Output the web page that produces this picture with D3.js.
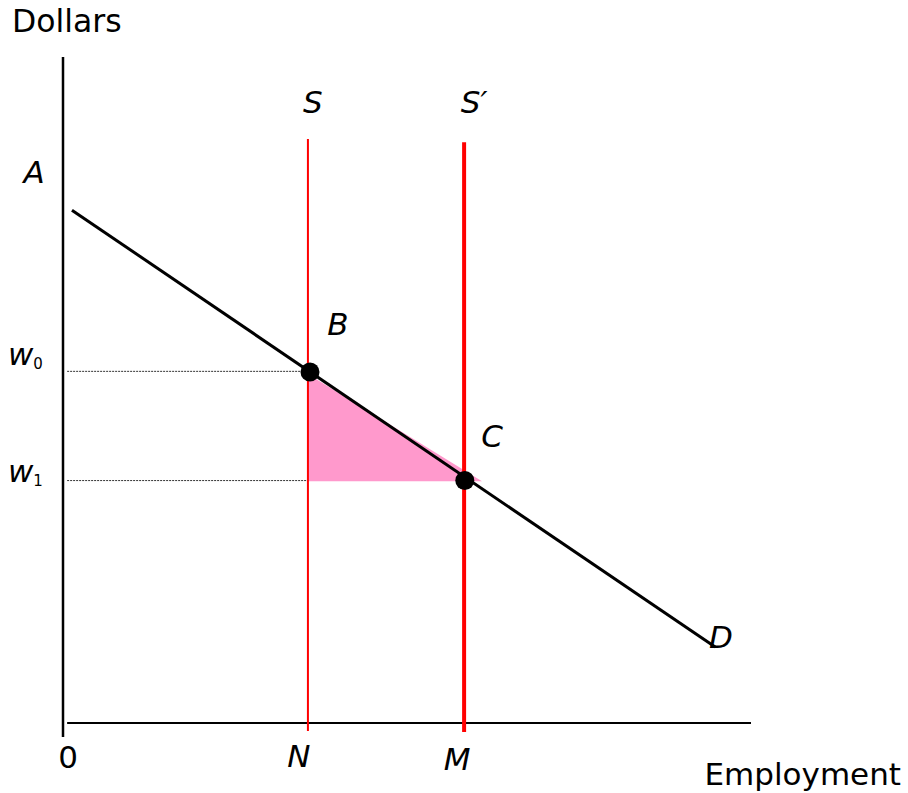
<!DOCTYPE html>
<html>
<head>
<meta charset="utf-8">
<script src="https://cdn.jsdelivr.net/npm/d3@7/dist/d3.min.js"></script>
<style>
  html, body { margin: 0; padding: 0; background: #fff; }
  svg { display: block; }
  text { font-family: "DejaVu Sans", Verdana, sans-serif; fill: #000; }
</style>
</head>
<body>
<svg id="chart" width="908" height="793"></svg>
<script>
// ---- data (employment units on x, dollars on y) ----
const employmentPoints = { N: 35.6, M: 58.3 };
const wageLevels = { w0: 52.8, w1: 36.4 };
const demandLine = [[1.3, 77.0], [94.8, 11.4]];
const supplyS = [[35.6, 87.7], [35.6, -1.2]];
const supplySPrime = [[58.3, 87.2], [58.3, -1.35]];
const pinkTriangle = [[35.6, 52.4], [35.6, 36.3], [60.9, 36.3]];
const eqPoints = [{ name: "B", x: 35.9, y: 52.7 }, { name: "C", x: 58.4, y: 36.4 }];
const axisLabels = { x: "Employment", y: "Dollars" };

const svg = d3.select("#chart");
const xs = d3.scaleLinear().domain([0, 100]).range([63, 751]);
const ys = d3.scaleLinear().domain([0, 100]).range([723, 57]);
const line = d3.line().x(d => xs(d[0])).y(d => ys(d[1]));

// pink triangle
svg.append("path").attr("d", line(pinkTriangle) + "Z").attr("fill", "#ff99cc");

// dotted wage lines
[wageLevels.w0, wageLevels.w1].forEach(w => {
  svg.append("path").attr("d", line([[0.6, w], [employmentPoints.N, w]]))
    .attr("stroke", "#333").attr("stroke-width", 1).attr("stroke-dasharray", "2,1").attr("fill", "none");
});

// axes
svg.append("path").attr("d", line([[0, 100], [0, -2.1]])).attr("stroke", "#000").attr("stroke-width", 2.5);
svg.append("path").attr("d", line([[0.6, 0], [100, 0]])).attr("stroke", "#000").attr("stroke-width", 2);

// supply lines
svg.append("path").attr("d", line(supplyS)).attr("stroke", "#ff0000").attr("stroke-width", 2);
svg.append("path").attr("d", line(supplySPrime)).attr("stroke", "#ff0000").attr("stroke-width", 4);

// demand
svg.append("path").attr("d", line(demandLine)).attr("stroke", "#000").attr("stroke-width", 3).attr("fill", "none");

// points
svg.selectAll("circle.eq").data(eqPoints).enter().append("circle")
  .attr("cx", d => xs(d.x)).attr("cy", d => ys(d.y)).attr("r", 9.5).attr("fill", "#000");

// labels
function label(txt, x, y, opts = {}) {
  return svg.append("text").attr("x", x).attr("y", y)
    .attr("font-size", opts.size || 30)
    .attr("text-anchor", opts.anchor || "middle")
    .attr("font-style", opts.italic ? "italic" : "normal")
    .text(txt);
}
label(axisLabels.y, 12, 32, { anchor: "start", size: 31.5 });
label(axisLabels.x, 901, 785, { anchor: "end", size: 31 });
label("S", xs(employmentPoints.N) + 5, 113, { italic: true, size: 31 });
label("S\u2032", xs(employmentPoints.M) + 10, 113, { italic: true, size: 31 });
label("A", 34, 183, { italic: true, size: 31 });
label("B", 338, 335, { italic: true, size: 31 });
label("C", 492, 447, { italic: true, size: 31 });
label("D", 721, 648, { italic: true, size: 31 });
label("N", xs(employmentPoints.N) - 9, 767, { italic: true, size: 31 });
label("M", xs(employmentPoints.M) - 7, 770, { italic: true, size: 31 });
label("0", 68, 768, { size: 31 });

// wage labels with subscripts
[["0", 365], ["1", 482]].forEach(([sub, by]) => {
  const t = svg.append("text").attr("x", 8).attr("y", by).attr("font-size", 31).attr("font-style", "italic");
  t.append("tspan").text("w");
  t.append("tspan").attr("font-size", 15).attr("font-style", "normal").attr("dy", 4).text(sub);
});
</script>
</body>
</html>
